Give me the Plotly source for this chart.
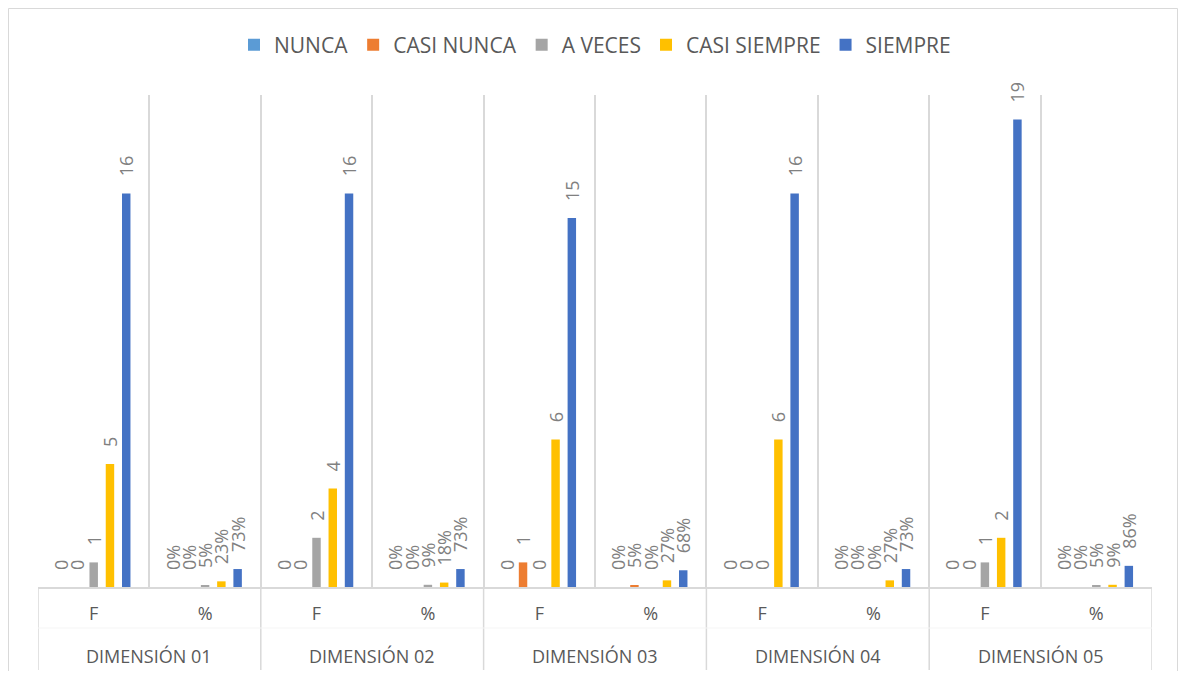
import plotly.graph_objects as go

# ---- data ----
dimensions = ["DIMENSIÓN 01", "DIMENSIÓN 02", "DIMENSIÓN 03", "DIMENSIÓN 04", "DIMENSIÓN 05"]
measures = ["F", "%"]
series_names = ["NUNCA", "CASI NUNCA", "A VECES", "CASI SIEMPRE", "SIEMPRE"]
series_colors = ["#5B9BD5", "#ED7D31", "#A5A5A5", "#FFC000", "#4472C4"]

nunca_f = [0, 0, 0, 0, 0]
nunca_pct = [0.00, 0.00, 0.00, 0.00, 0.00]
casi_nunca_f = [0, 0, 1, 0, 0]
casi_nunca_pct = [0.00, 0.00, 0.05, 0.00, 0.00]
a_veces_f = [1, 2, 0, 0, 1]
a_veces_pct = [0.05, 0.09, 0.00, 0.00, 0.05]
casi_siempre_f = [5, 4, 6, 6, 2]
casi_siempre_pct = [0.23, 0.18, 0.27, 0.27, 0.09]
siempre_f = [16, 16, 15, 16, 19]
siempre_pct = [0.73, 0.73, 0.68, 0.73, 0.86]

series_f = [nunca_f, casi_nunca_f, a_veces_f, casi_siempre_f, siempre_f]
series_pct = [nunca_pct, casi_nunca_pct, a_veces_pct, casi_siempre_pct, siempre_pct]

# ---- layout constants (figure pixels; page adds an 8px body margin) ----
FIG_W, FIG_H = 1170, 663
L, R, T, B = 30, 26, 87, 84
PLOT_W = FIG_W - L - R
PLOT_H = FIG_H - T - B


def px_to_paper_x(px):
    return (px - L) / PLOT_W


def px_to_paper_y(py):
    return (FIG_H - B - py) / PLOT_H


# ---- build ----
cat_ids = [f"{d}|{m}" for d in dimensions for m in measures]
cat_labels = [m for _ in dimensions for m in measures]

fig = go.Figure()
for name, color, fv, pv in zip(series_names, series_colors, series_f, series_pct):
    y = []
    text = []
    for f, p in zip(fv, pv):
        y += [f, p]
        text += [f"{f}", f"{round(p * 100)}%"]
    fig.add_trace(go.Bar(
        name=name,
        x=cat_ids,
        y=y,
        text=text,
        texttemplate="\u00a0\u00a0\u00a0%{text}",
        textposition="outside",
        textangle=-90,
        constraintext="none",
        cliponaxis=False,
        textfont=dict(family="Open Sans", size=18, color="#808080"),
        marker=dict(color=color, line=dict(width=0)),
        hoverinfo="skip",
    ))

shapes = []
# dividers between dimensions below the axis
for i in range(len(dimensions) + 1):
    xpos = i * len(measures) - 0.5
    shapes.append(dict(
        type="line", xref="x", yref="paper",
        x0=xpos, x1=xpos, y0=0, y1=px_to_paper_y(662),
        line=dict(color="#d9d9d9", width=1.5), layer="below",
    ))
# faint line between label rows
shapes.append(dict(
    type="line", xref="paper", yref="paper",
    x0=0, x1=1, y0=px_to_paper_y(620), y1=px_to_paper_y(620),
    line=dict(color="#f5f5f5", width=1), layer="below",
))
# chart border (left, top, right)
shapes.append(dict(
    type="path", xref="paper", yref="paper",
    path=(f"M {px_to_paper_x(0.5)},{px_to_paper_y(FIG_H)} "
          f"L {px_to_paper_x(0.5)},{px_to_paper_y(0.5)} "
          f"L {px_to_paper_x(FIG_W - 0.5)},{px_to_paper_y(0.5)} "
          f"L {px_to_paper_x(FIG_W - 0.5)},{px_to_paper_y(FIG_H)}"),
    line=dict(color="#d9d9d9", width=1), layer="below",
))

annotations = []
for i, d in enumerate(dimensions):
    annotations.append(dict(
        x=i * len(measures) + 0.5, xref="x",
        y=px_to_paper_y(648), yref="paper",
        text=d, showarrow=False,
        xanchor="center", yanchor="middle",
        font=dict(family="Open Sans", size=18, color="#595959"),
    ))

fig.update_layout(
    width=FIG_W,
    height=FIG_H,
    barmode="group",
    bargap=0.27,
    bargroupgap=0.48,
    paper_bgcolor="white",
    plot_bgcolor="white",
    margin=dict(l=L, r=R, t=T, b=B, autoexpand=False),
    font=dict(family="Open Sans", color="#595959"),
    legend=dict(
        orientation="h",
        xref="paper", x=0.5, xanchor="center",
        yref="container", y=1 - 37 / FIG_H, yanchor="middle",
        font=dict(family="Open Sans", size=21, color="#595959"),
        itemclick=False,
    ),
    xaxis=dict(
        type="category",
        tickmode="array",
        tickvals=cat_ids,
        ticktext=cat_labels,
        tickson="boundaries",
        showgrid=True,
        gridcolor="#d9d9d9",
        gridwidth=1.5,
        showline=True,
        linecolor="#d9d9d9",
        linewidth=1.5,
        ticks="",
        ticklabelstandoff=10,
        tickfont=dict(family="Open Sans", size=18, color="#595959"),
        automargin=False,
        range=[-0.5, len(cat_ids) - 0.5],
    ),
    yaxis=dict(visible=False, range=[0, 20], showgrid=False, zeroline=False),
    shapes=shapes,
    annotations=annotations,
)

fig.write_html("out.html")
